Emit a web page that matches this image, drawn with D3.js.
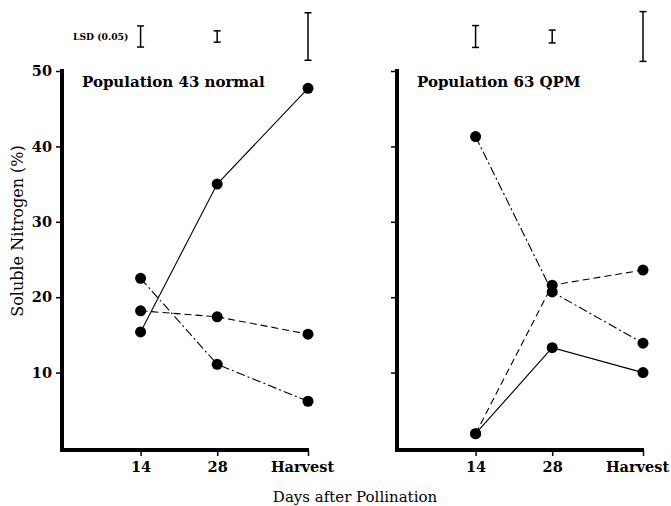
<!DOCTYPE html>
<meta charset="utf-8">
<title>Soluble Nitrogen</title>
<style>
body { margin: 0; background: #fff; }
svg text { font-family: 'DejaVu Serif', serif; fill: #000; }
.axis .domain { display: none; }
.axis .tick line { stroke: #000; stroke-width: 1.5; }
.axis .tick text { font-weight: bold; font-size: 14.5px; }
</style>
<body>
<svg width="671" height="506"></svg>
<script src="https://d3js.org/d3.v7.min.js"></script>
<script>
// x positions along days axis (Harvest placed where it sits on the scale)
var dayLabels = ["14", "28", "Harvest"];
var dayPos = [14, 28, 44.6];
var yTicks = [10, 20, 30, 40, 50];

// Population 43 normal
var pop43Solid = [15.4, 35.0, 47.7];
var pop43Dash = [18.2, 17.4, 15.1];
var pop43DashDot = [22.5, 11.1, 6.2];
var lsd43 = [2.8, 1.5, 6.3];

// Population 63 QPM
var pop63Solid = [1.9, 13.3, 10.0];
var pop63Dash = [1.9, 21.6, 23.6];
var pop63DashDot = [41.3, 20.7, 13.9];
var lsd63 = [2.9, 1.7, 6.6];

var svg = d3.select("svg");

var y = d3.scaleLinear()
    .domain([0, 50])
    .range([448, 71]);

var styles = {
  solid: null,
  dash: "7,4",
  dashdot: "9,3,2,3"
};

function drawPanel(x0, title, series, lsd, showLabels) {
  var x = d3.scaleLinear()
      .domain([0, 44.6])
      .range([x0, x0 + 244]);

  var g = svg.append("g");

  // y ticks
  g.append("g")
      .attr("class", "axis")
      .attr("transform", "translate(" + (x0 - 2) + ",0)")
      .call(d3.axisLeft(y).tickValues(yTicks).tickSize(6).tickPadding(4)
        .tickFormat(showLabels ? d3.format("d") : ""));

  // x ticks
  var xAxis = g.append("g")
      .attr("class", "axis")
      .attr("transform", "translate(0,450)")
      .call(d3.axisBottom(x).tickValues(dayPos).tickSize(6).tickPadding(6)
        .tickFormat(function(d, i) { return dayLabels[i]; }));
  // Harvest label sits a little left of its tick
  xAxis.selectAll(".tick text")
      .attr("dx", function(d, i) { return i == 2 ? -6 : 0; });

  // thick axis lines
  g.append("line")
      .attr("x1", x0 - 2).attr("x2", x0 - 2)
      .attr("y1", y(0) + 4).attr("y2", y(50) - 2)
      .attr("stroke", "#000").attr("stroke-width", 4);
  g.append("line")
      .attr("x1", x0 - 4).attr("x2", x(44.6) + 1)
      .attr("y1", y(0) + 2).attr("y2", y(0) + 2)
      .attr("stroke", "#000").attr("stroke-width", 4);

  g.append("text")
      .attr("x", x0 + 18)
      .attr("y", 87)
      .attr("font-size", "15px")
      .attr("font-weight", "bold")
      .text(title);

  var line = d3.line()
      .x(function(d, i) { return x(dayPos[i]); })
      .y(function(d) { return y(d); });

  series.forEach(function(s) {
    g.append("path")
        .attr("d", line(s.values))
        .attr("fill", "none")
        .attr("stroke", "#000")
        .attr("stroke-width", 1.1)
        .attr("stroke-dasharray", styles[s.style]);
    g.selectAll(null)
        .data(s.values)
        .enter().append("circle")
        .attr("cx", function(d, i) { return x(dayPos[i]); })
        .attr("cy", function(d) { return y(d); })
        .attr("r", 5.5)
        .attr("fill", "#000");
  });

  // LSD bars above the panel
  var lsdMid = 36.5;
  var bars = g.selectAll(".lsd")
      .data(lsd)
      .enter().append("g")
      .attr("class", "lsd");
  bars.append("line")
      .attr("x1", function(d, i) { return x(dayPos[i]); })
      .attr("x2", function(d, i) { return x(dayPos[i]); })
      .attr("y1", function(d) { return lsdMid - (y(0) - y(d)) / 2; })
      .attr("y2", function(d) { return lsdMid + (y(0) - y(d)) / 2; })
      .attr("stroke", "#000").attr("stroke-width", 1.5);
  [-1, 1].forEach(function(sgn) {
    bars.append("line")
        .attr("x1", function(d, i) { return x(dayPos[i]) - 3.5; })
        .attr("x2", function(d, i) { return x(dayPos[i]) + 3.5; })
        .attr("y1", function(d) { return lsdMid + sgn * (y(0) - y(d)) / 2; })
        .attr("y2", function(d) { return lsdMid + sgn * (y(0) - y(d)) / 2; })
        .attr("stroke", "#000").attr("stroke-width", 1.5);
  });
}

drawPanel(64, "Population 43 normal", [
  {values: pop43Solid, style: "solid"},
  {values: pop43Dash, style: "dash"},
  {values: pop43DashDot, style: "dashdot"}
], lsd43, true);

drawPanel(399, "Population 63 QPM", [
  {values: pop63Solid, style: "solid"},
  {values: pop63Dash, style: "dash"},
  {values: pop63DashDot, style: "dashdot"}
], lsd63, false);

svg.append("text")
    .attr("x", 73)
    .attr("y", 40)
    .attr("font-size", "9.2px")
    .attr("font-weight", "bold")
    .text("LSD (0.05)");

svg.append("text")
    .attr("transform", "translate(23,231) rotate(-90)")
    .attr("text-anchor", "middle")
    .attr("font-size", "16px")
    .text("Soluble Nitrogen (%)");

svg.append("text")
    .attr("x", 355)
    .attr("y", 502)
    .attr("text-anchor", "middle")
    .attr("font-size", "15px")
    .text("Days after Pollination");
</script>
</body>
